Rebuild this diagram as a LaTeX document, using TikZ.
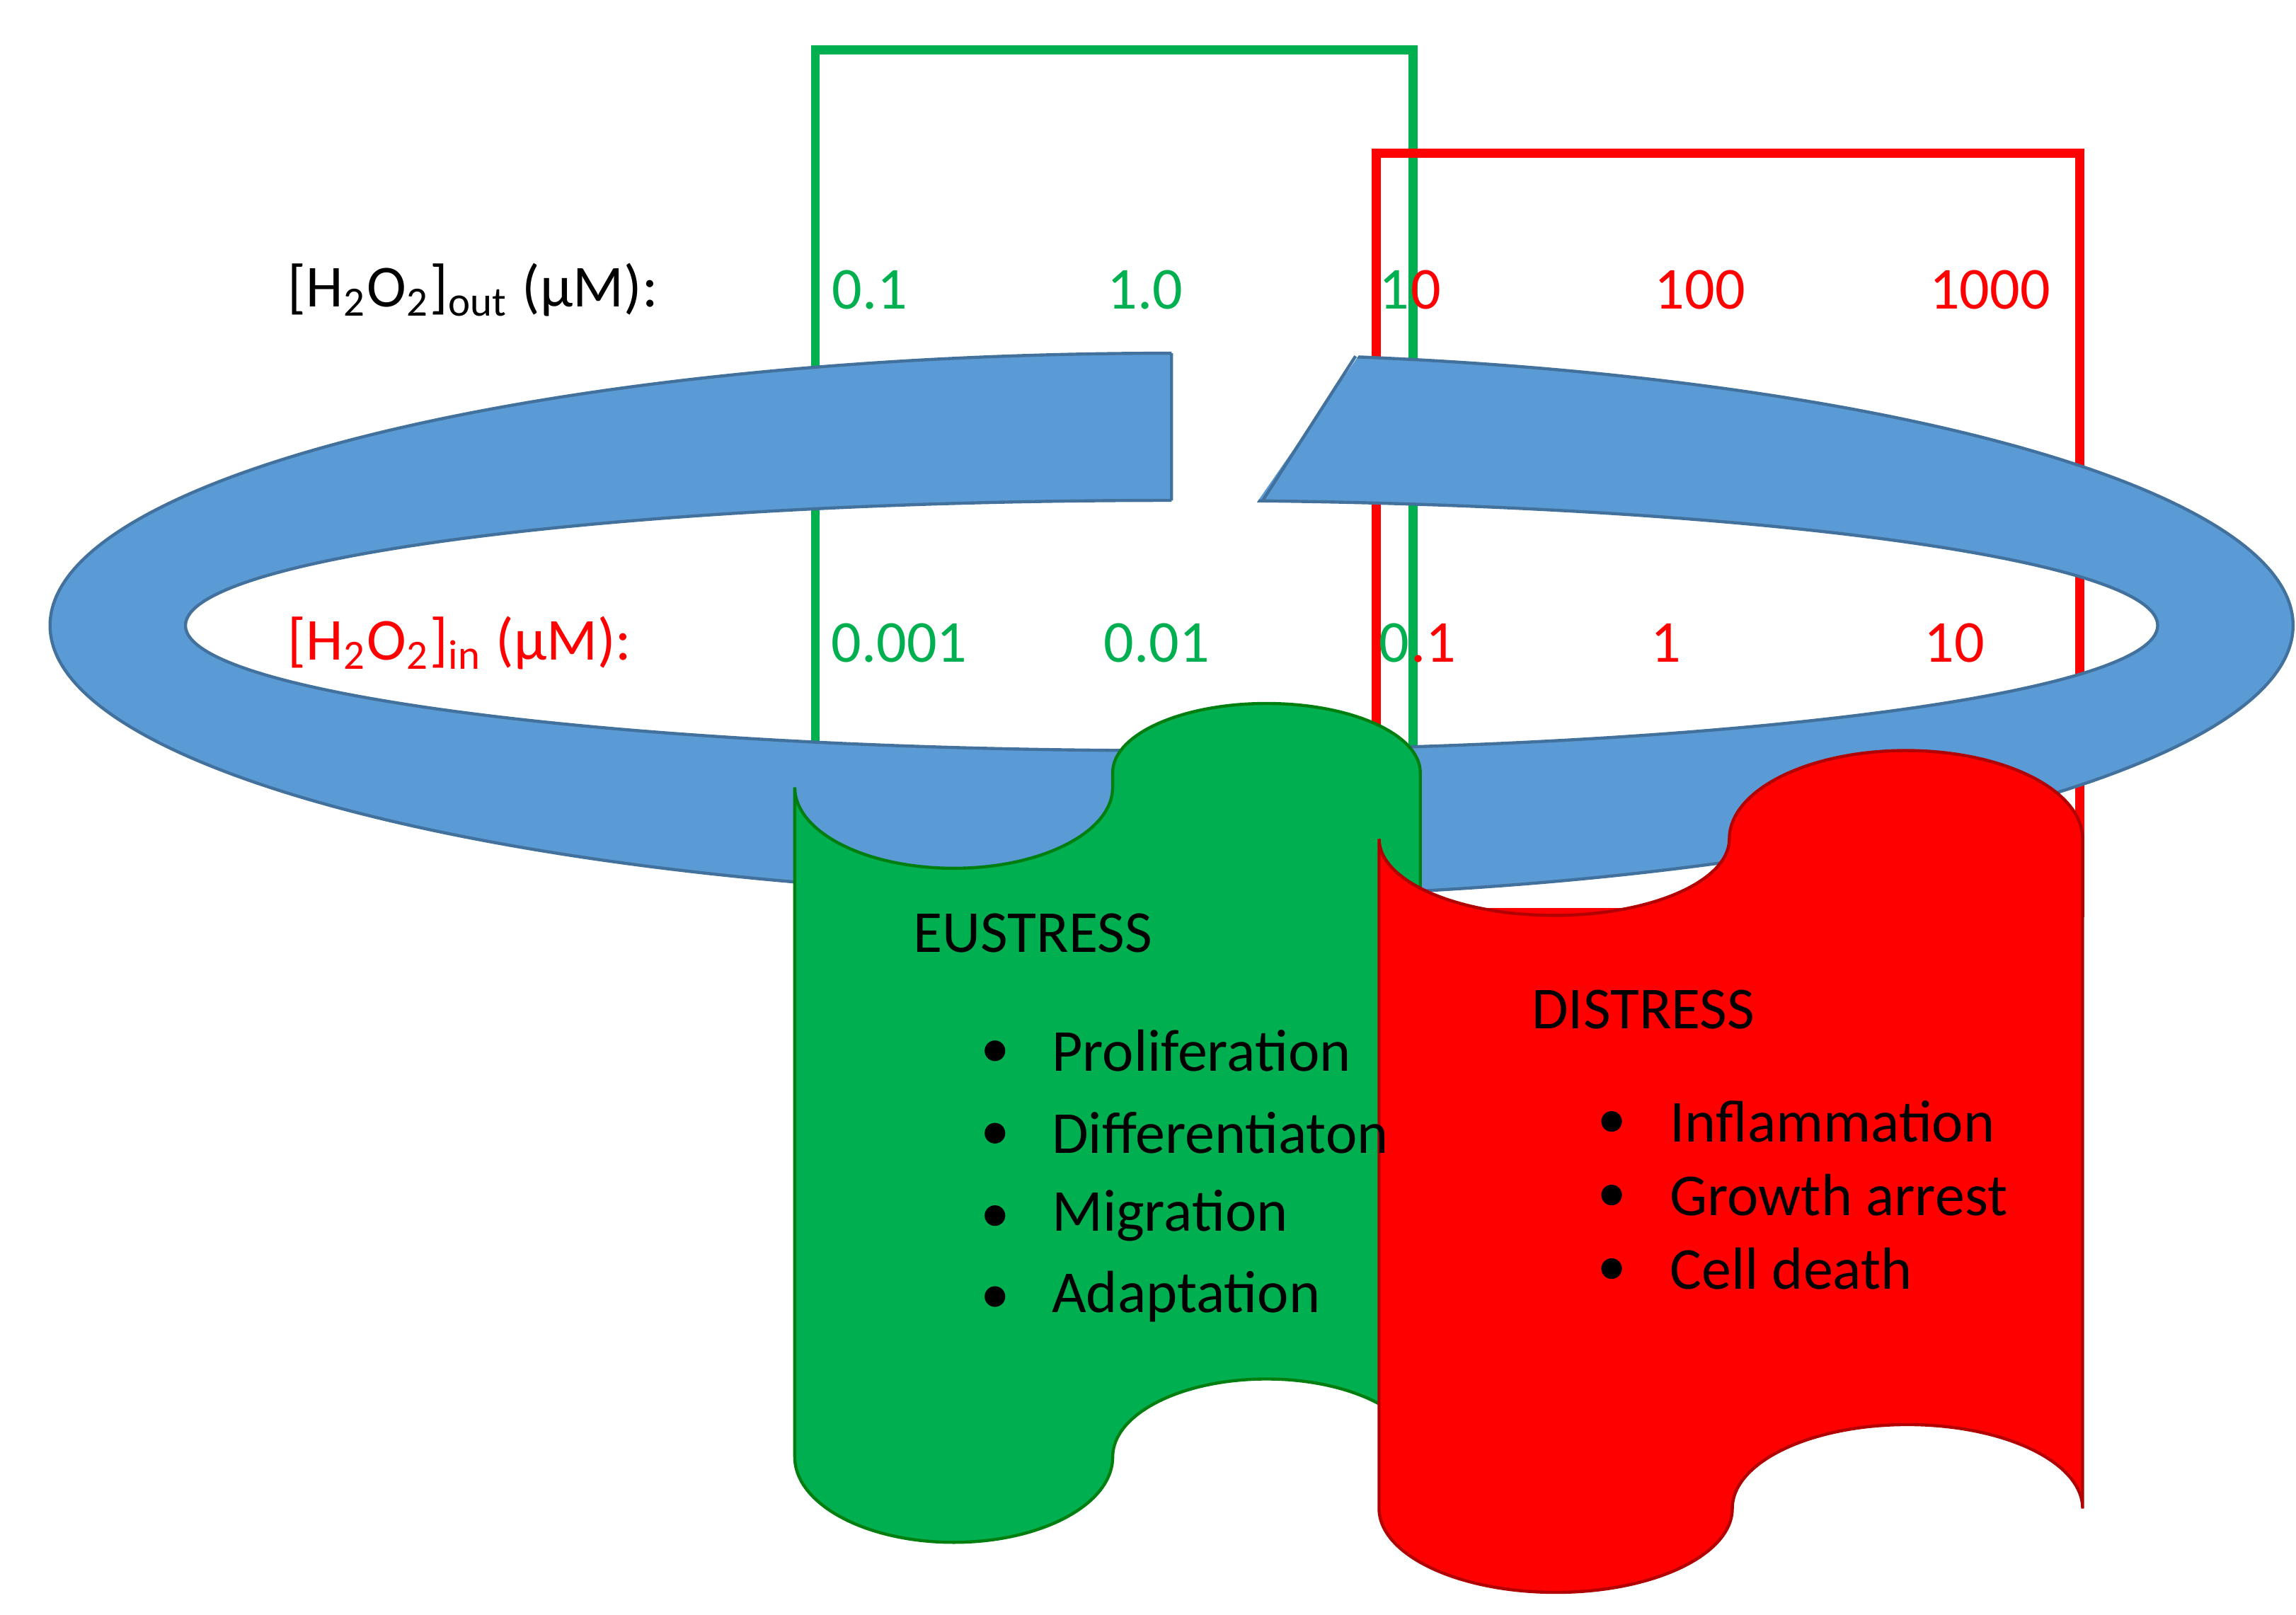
\documentclass[tikz,border=0pt]{standalone}
\usepackage{fontspec}
\setmainfont{Carlito}
\definecolor{gr}{HTML}{00B050}
\definecolor{rd}{HTML}{FF0000}
\definecolor{bl}{HTML}{5B9BD5}
\definecolor{bld}{HTML}{41719C}
\begin{document}
\begin{tikzpicture}[x=0.01cm,y=0.01cm,
  lbl/.style={font=\fontsize{11.5}{14}\selectfont,inner sep=0pt},
  item/.style={lbl,anchor=west},
  bul/.style={circle,fill=black,inner sep=0pt,minimum size=0.14cm}]
\useasboundingbox (0,0) rectangle (1560,-1097);
% rectangles
\draw[gr,line width=0.06cm] (554,-515) |- (960,-34) -- (960,-515);
\draw[rd,line width=0.06cm] (935,-620) |- (1413,-104) -- (1413,-620) -- cycle;
% texts
\node[item] (ho) at (195,-197) {[H\textsubscript{2}O\textsubscript{2}]\textsubscript{out} (μM):};
\node[item,rd] (hi) at (195,-437) {[H\textsubscript{2}O\textsubscript{2}]\textsubscript{in} (μM):};
\node[lbl,gr] (o1) at (591,-197) {0.1};
\node[lbl,gr] (o2) at (778,-197) {1.0};
\node[lbl,anchor=east,gr] (o3a) at (958,-197) {1};
\node[lbl,anchor=west,rd] (o3b) at (958,-197) {0};
\node[lbl,rd] (o4) at (1155,-197) {100};
\node[lbl,rd] (o5) at (1352,-197) {1000};
\node[lbl,gr] (i1) at (611,-437) {0.001};
\node[lbl,gr] (i2) at (786,-437) {0.01};
\node[lbl,anchor=east,gr] (i3a) at (958,-437) {0};
\node[lbl,anchor=west,rd] (i3b) at (958,-437) {.1};
\node[lbl,rd] (i4) at (1132,-437) {1};
\node[lbl,rd] (i5) at (1328,-437) {10};
% ring
\begin{scope}[even odd rule]
\clip (0,0) rectangle (1560,-1097) (796,-200) -- (796,-350) -- (848,-350) -- (952,-200) -- cycle;
\fill[bl] (796,-425) ellipse [x radius=762,y radius=185] (796,-425) ellipse [x radius=670,y radius=85];
\draw[bld,line width=0.6pt] (796,-425) ellipse [x radius=762,y radius=185] (796,-425) ellipse [x radius=670,y radius=85];
\end{scope}
\draw[bld,line width=0.6pt] (796,-240) -- (796,-340) (921,-242) -- (858,-340);
% green banner
\draw[fill=gr,draw=green!45!black!80!gr,line width=0.6pt] (540,-535) arc[start angle=180,end angle=360,x radius=108,y radius=55]
  -- (756,-525) arc[start angle=180,end angle=0,x radius=104.5,y radius=47]
  -- (965,-990) arc[start angle=0,end angle=180,x radius=104.5,y radius=53]
  arc[start angle=0,end angle=-180,x radius=108,y radius=58] -- cycle;
% red banner
\draw[fill=rd,draw=red!70!black,line width=0.6pt] (937,-570) arc[start angle=180,end angle=360,x radius=119,y radius=52]
  -- (1175,-570) arc[start angle=180,end angle=0,x radius=120,y radius=60]
  -- (1415,-1025) arc[start angle=0,end angle=180,x radius=119,y radius=57]
  arc[start angle=0,end angle=-180,x radius=120,y radius=57] -- cycle;
% eustress
\node[item] (eu) at (620,-634) {EUSTRESS};
\foreach \t/\y [count=\i] in {Proliferation/714,Differentiaton/770,Migration/826,Adaptation/881}{
  \node[bul] (eb\i) at (676,-\y) {};
  \node[item] (et\i) at (714,-\y) {\t};}
\node[item] (di) at (1040,-686) {DISTRESS};
\foreach \t/\y [count=\i] in {Inflammation/762,Growth arrest/812,Cell death/862}{
  \node[bul] (db\i) at (1095,-\y) {};
  \node[item] (dt\i) at (1134,-\y) {\t};}
\end{tikzpicture}
\end{document}
